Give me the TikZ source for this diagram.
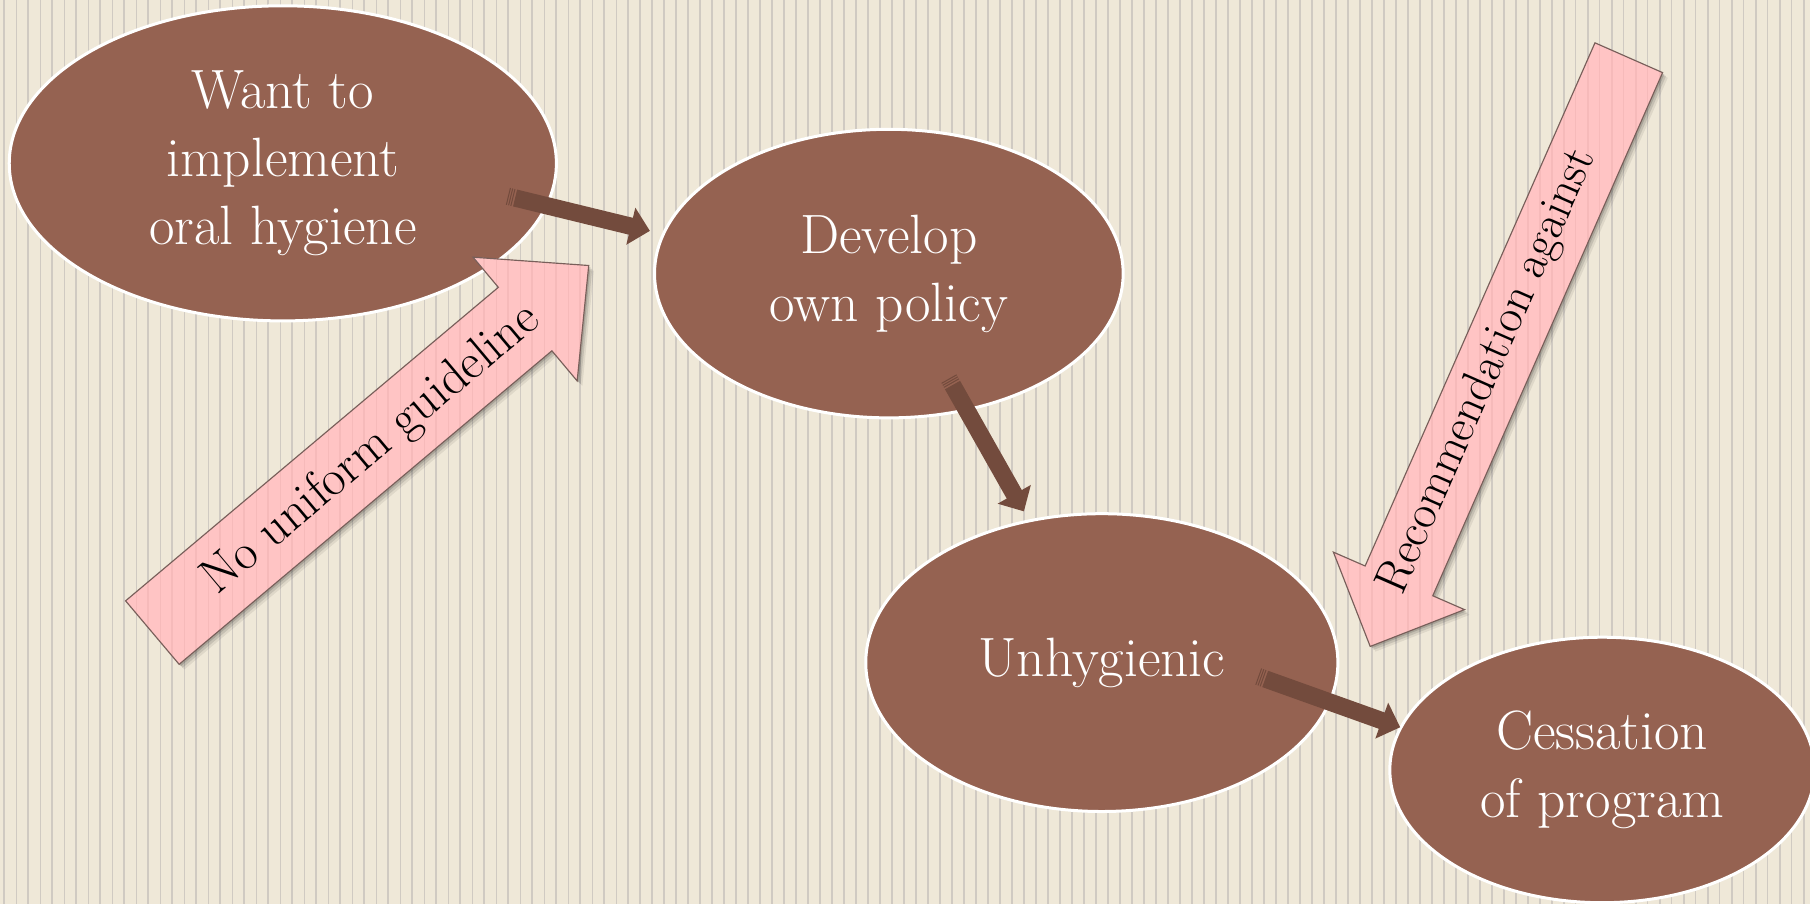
\documentclass[tikz,border=0pt]{standalone}
\usetikzlibrary{shapes.geometric,arrows.meta,calc}
\definecolor{bgc}{RGB}{239,232,216}
\definecolor{stripec}{RGB}{208,202,194}
\definecolor{ellc}{RGB}{149,98,81}
\definecolor{arrowc}{RGB}{115,75,61}
\definecolor{pinkc}{RGB}{255,196,196}
\definecolor{pinkstripe}{RGB}{246,186,186}
\definecolor{pinkedge}{RGB}{120,95,90}
\newcommand\mystripes[2]{%
  \foreach \i in {0,...,75}{
    \draw[#1, line width=0.85pt] ({3.5+20.79*\i},0) -- ({3.5+20.79*\i},783.1);
    \draw[#2, line width=0.45pt] ({13.9+20.79*\i},0) -- ({13.9+20.79*\i},783.1);
  }}
\newcommand\stripearrow[2]{%
  \draw[arrowc, line width=7.5pt] ($(#1)!0pt!(#2)$) -- ($(#1)!0.45pt!(#2)$);
  \draw[arrowc, line width=7.5pt] ($(#1)!1.0pt!(#2)$) -- ($(#1)!1.45pt!(#2)$);
  \draw[arrowc, line width=7.5pt] ($(#1)!2.0pt!(#2)$) -- ($(#1)!2.45pt!(#2)$);
  \draw[thinarrow] ($(#1)!3.2pt!(#2)$) -- (#2);}
\def\pathBone{(155.2,575.5) -- (478.1,303.9) -- (500,330) -- (510,230) -- (409.8,222.8) -- (431.7,248.9) -- (108.8,520.5) -- cycle}
\def\pathBtwo{(1440.3,62.9) -- (1241.2,516.1) -- (1268.7,528.1) -- (1187,560) -- (1155.1,478.3) -- (1182.6,490.3) -- (1381.7,37.1) -- cycle}
\newcommand\blockarrow[1]{%
  \begin{scope}[shift={(1.5,1.5)}]\fill[black, opacity=0.14] #1;\end{scope}
  \begin{scope}[shift={(3,3)}]\fill[black, opacity=0.11] #1;\end{scope}
  \begin{scope}[shift={(4.5,4.5)}]\fill[black, opacity=0.07] #1;\end{scope}
  \fill[pinkc] #1;
  \begin{scope}\clip #1; \mystripes{pinkstripe}{pinkstripe}\end{scope}
  \draw[pinkedge, line width=0.5pt, line join=miter] #1;}
\tikzset{
  x=0.5pt, y=-0.5pt,
  bubble/.style={ellipse, draw=white, line width=1.3pt, fill=ellc, inner sep=0pt,
    text=white, align=center, font=\fontsize{24}{29.5}\selectfont},
  thinarrow/.style={draw=arrowc, line width=7.5pt, line cap=butt,
    -{Triangle[width=16pt, length=8.5pt]}},
  arrowtext/.style={text=black, inner sep=0pt}
}
\begin{document}
\begin{tikzpicture}
\useasboundingbox (0,0) rectangle (1568,783.1);
\fill[bgc] (0,0) rectangle (1568,783.1);
\mystripes{stripec}{stripec}

\node[bubble, minimum width=237pt, minimum height=136.5pt] (want) at (245,141.5)
  {Want to\\implement\\oral hygiene};
\node[bubble, minimum width=203pt, minimum height=125pt] (develop) at (770,237)
  {Develop\\own policy};
\node[bubble, minimum width=204.5pt, minimum height=129pt] (unhyg) at (954.5,574)
  {Unhygienic};
\node[bubble, minimum width=184pt, minimum height=115pt] (cess) at (1388,667)
  {Cessation\\of program};

\coordinate (a1s) at (440,170);
\coordinate (a1e) at (563,200);
\coordinate (a2s) at (822,328);
\coordinate (a2e) at (887,443);
\coordinate (a3s) at (1090,586);
\coordinate (a3e) at (1213,630);
\stripearrow{a1s}{a1e}
\stripearrow{a2s}{a2e}
\stripearrow{a3s}{a3e}

\blockarrow{\pathBone}
\blockarrow{\pathBtwo}
\node[arrowtext, rotate=40.07, font=\fontsize{21.7}{26}\selectfont] (nug) at (322,390) {No uniform guideline};
\node[arrowtext, rotate=66.3, font=\fontsize{20.6}{25}\selectfont] (rec) at (1289,322) {Recommendation against};
\end{tikzpicture}
\end{document}
